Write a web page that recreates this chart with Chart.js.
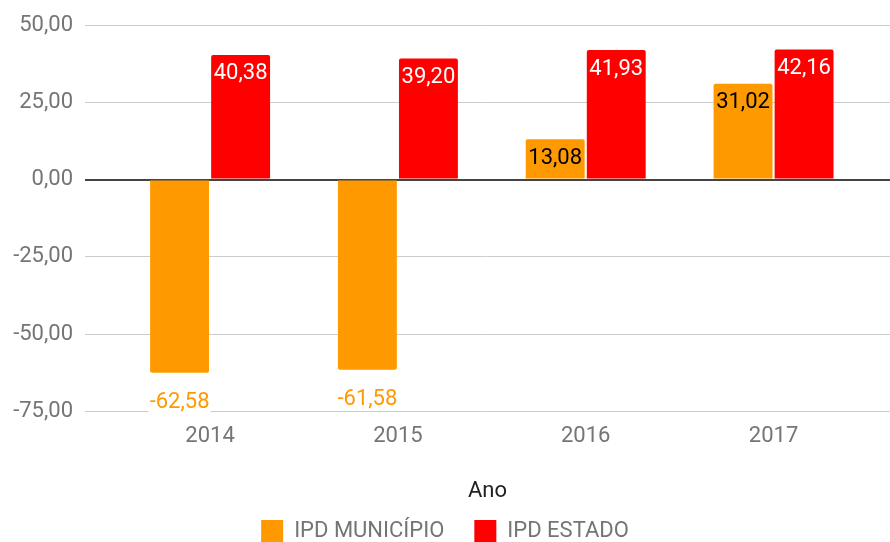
<!DOCTYPE html>
<html>
<head>
<meta charset="utf-8">
<script src="https://cdn.jsdelivr.net/npm/chart.js@4"></script>
<style>
  html, body { margin: 0; padding: 0; background: #fff; }
  #wrap { width: 890px; height: 542px; }
</style>
</head>
<body>
<div id="wrap"><canvas id="chart"></canvas></div>
<script>
// ===== DATA =====
const years = ["2014", "2015", "2016", "2017"];
const ipdMunicipio = [-62.58, -61.58, 13.08, 31.02];
const ipdEstado = [40.38, 39.20, 41.93, 42.16];
const yTicks = [-75, -50, -25, 0, 25, 50];

const ORANGE = "#FF9900";
const RED = "#FF0000";

// number like 40,38
function fmt(v) {
  return v.toFixed(2).replace(".", ",");
}

// ===== VALUE LABELS ON BARS =====
const barLabels = {
  id: "barLabels",
  afterDatasetsDraw(chart) {
    const ctx = chart.ctx;
    ctx.save();
    ctx.font = "22px Roboto";
    ctx.textAlign = "center";
    ctx.textBaseline = "middle";
    chart.data.datasets.forEach((ds, di) => {
      chart.getDatasetMeta(di).data.forEach((bar, i) => {
        const v = ds.data[i].y;
        const txt = fmt(v);
        if (v >= 0) {
          ctx.fillStyle = di === 1 ? "#fff" : "#000";
          ctx.fillText(txt, bar.x, bar.y + 19);
        } else {
          const w = ctx.measureText(txt).width;
          ctx.fillStyle = "#fff";
          ctx.fillRect(bar.x - w / 2 - 1, bar.y + 20, w + 2, 20);
          ctx.fillStyle = ORANGE;
          ctx.fillText(txt, bar.x, bar.y + 30);
        }
      });
    });
    ctx.restore();
  }
};

Chart.defaults.font.family = "Roboto";
Chart.defaults.font.size = 22;

new Chart(document.getElementById("chart"), {
  type: "bar",
  data: {
    datasets: [
      {
        label: "IPD MUNICÍPIO",
        data: ipdMunicipio.map((v, i) => ({ x: i, y: v })),
        backgroundColor: ORANGE,
        borderRadius: 2
      },
      {
        label: "IPD ESTADO",
        data: ipdEstado.map((v, i) => ({ x: i, y: v })),
        backgroundColor: RED,
        borderRadius: 2
      }
    ]
  },
  options: {
    responsive: true,
    maintainAspectRatio: false,
    animation: false,
    layout: { padding: { top: 25, right: 0, bottom: -10, left: 0 } },
    datasets: {
      bar: { categoryPercentage: 0.65, barPercentage: 0.965 }
    },
    plugins: {
      legend: {
        position: "bottom",
        labels: {
          boxWidth: 22,
          boxHeight: 22,
          padding: 30,
          color: "#757575",
          font: { size: 22 }
        }
      },
      tooltip: { enabled: false }
    },
    scales: {
      x: {
        type: "linear",
        offset: false,
        min: -0.666,
        max: 3.62,
        afterBuildTicks: (s) => { s.ticks = years.map((_, i) => ({ value: i })); },
        grid: { display: false, drawTicks: false },
        border: { display: false },
        ticks: {
          padding: 12,
          color: "#757575",
          callback: (v) => years[v]
        },
        title: {
          display: true,
          text: "Ano",
          color: "#222",
          font: { size: 22 },
          padding: { top: 17, bottom: -15 }
        }
      },
      y: {
        min: -75,
        max: 50,
        afterBuildTicks: (s) => { s.ticks = yTicks.map(v => ({ value: v })); },
        afterFit: (s) => { s.width = 85; },
        grid: {
          drawTicks: false,
          color: (c) => c.tick && c.tick.value === 0 ? "#444" : "#cccccc",
          lineWidth: (c) => c.tick && c.tick.value === 0 ? 2 : 1
        },
        border: { display: false },
        ticks: {
          padding: 12,
          color: "#757575",
          callback: (v) => fmt(v)
        }
      }
    }
  },
  plugins: [barLabels]
});
</script>
</body>
</html>
